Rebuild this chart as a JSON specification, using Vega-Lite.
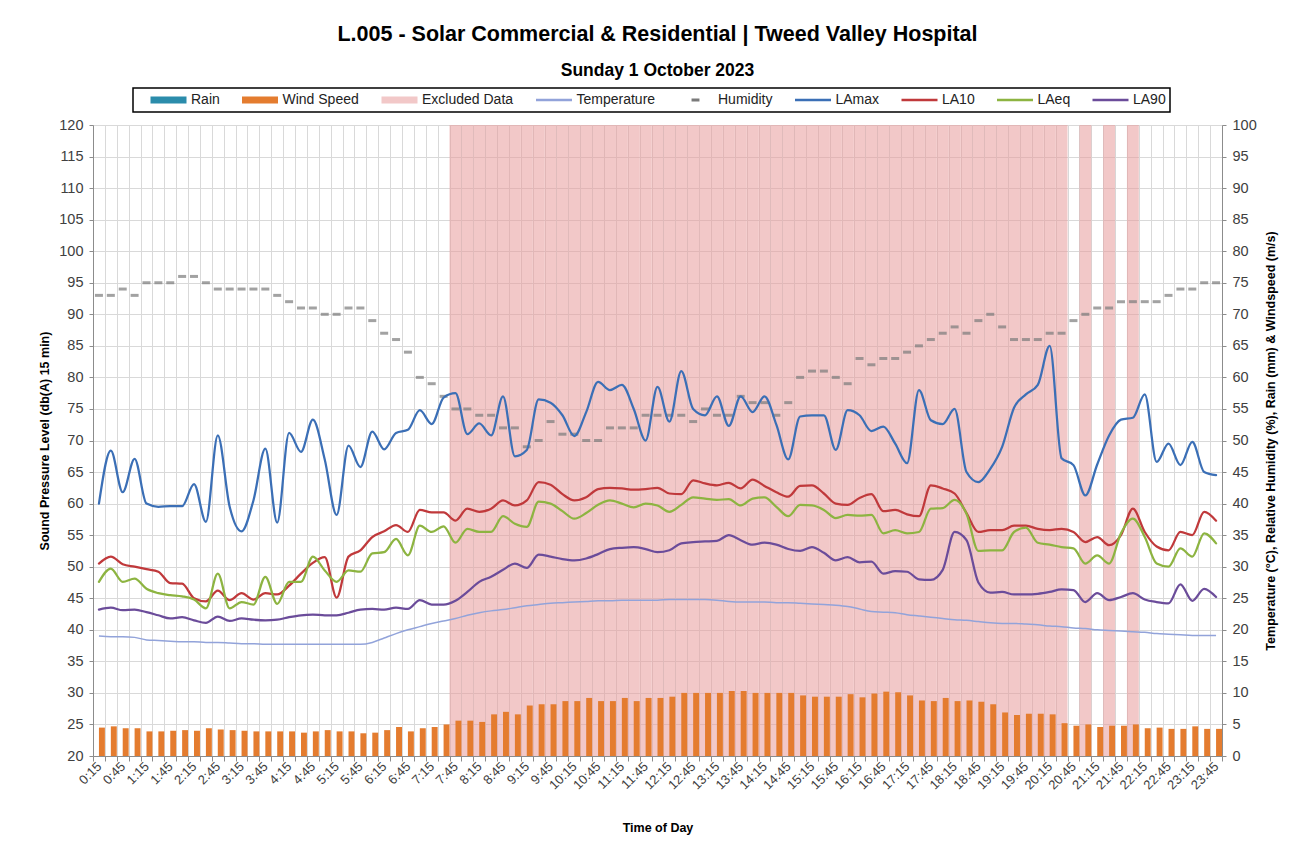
{
  "$schema": "https://vega.github.io/schema/vega-lite/v6.json",
  "width": 1129,
  "height": 631,
  "autosize": {"type": "none"},
  "padding": {"left": 93, "top": 125, "right": 87, "bottom": 95},
  "background": "white",
  "title": {
    "text": "L.005 - Solar Commercial & Residential | Tweed Valley Hospital",
    "subtitle": "Sunday 1 October 2023",
    "anchor": "middle",
    "frame": "group",
    "font": "Liberation Sans",
    "fontSize": 21.5,
    "fontWeight": "bold",
    "color": "#000000",
    "subtitleFont": "Liberation Sans",
    "subtitleFontSize": 17.5,
    "subtitleFontWeight": "bold",
    "subtitleColor": "#000000",
    "subtitlePadding": 16,
    "offset": 8
  },
  "config": {
    "font": "Liberation Sans",
    "view": {"stroke": null},
    "axis": {
      "labelFont": "Liberation Sans",
      "titleFont": "Liberation Sans",
      "labelColor": "#404040",
      "titleColor": "#000000",
      "domainColor": "#8c8c8c",
      "tickColor": "#8c8c8c",
      "gridColor": "#d9d9d9",
      "gridWidth": 1,
      "titleFontSize": 12.5,
      "titleFontWeight": "bold"
    }
  },
  "data": {
    "values": [
      {"t":"0:15","LAmax":60.0,"LA10":50.5,"LAeq":47.6,"LA90":43.2,"Temperature":19.0,"Humidity":73,"Rain":0,"Wind Speed":4.5,"Excluded Data":0},
      {"t":"0:30","LAmax":68.4,"LA10":51.6,"LAeq":49.7,"LA90":43.5,"Temperature":18.9,"Humidity":73,"Rain":0,"Wind Speed":4.7,"Excluded Data":0},
      {"t":"0:45","LAmax":61.8,"LA10":50.4,"LAeq":47.6,"LA90":43.1,"Temperature":18.9,"Humidity":74,"Rain":0,"Wind Speed":4.4,"Excluded Data":0},
      {"t":"1:00","LAmax":67.1,"LA10":50.0,"LAeq":48.1,"LA90":43.2,"Temperature":18.8,"Humidity":73,"Rain":0,"Wind Speed":4.4,"Excluded Data":0},
      {"t":"1:15","LAmax":60.0,"LA10":49.6,"LAeq":46.5,"LA90":42.8,"Temperature":18.4,"Humidity":75,"Rain":0,"Wind Speed":3.9,"Excluded Data":0},
      {"t":"1:30","LAmax":59.5,"LA10":49.2,"LAeq":45.8,"LA90":42.3,"Temperature":18.3,"Humidity":75,"Rain":0,"Wind Speed":3.9,"Excluded Data":0},
      {"t":"1:45","LAmax":59.6,"LA10":47.4,"LAeq":45.5,"LA90":41.8,"Temperature":18.2,"Humidity":75,"Rain":0,"Wind Speed":4.0,"Excluded Data":0},
      {"t":"2:00","LAmax":59.6,"LA10":47.3,"LAeq":45.3,"LA90":42.0,"Temperature":18.1,"Humidity":76,"Rain":0,"Wind Speed":4.1,"Excluded Data":0},
      {"t":"2:15","LAmax":63.1,"LA10":45.0,"LAeq":44.8,"LA90":41.5,"Temperature":18.1,"Humidity":76,"Rain":0,"Wind Speed":4.0,"Excluded Data":0},
      {"t":"2:30","LAmax":57.1,"LA10":44.5,"LAeq":43.4,"LA90":41.1,"Temperature":18.0,"Humidity":75,"Rain":0,"Wind Speed":4.4,"Excluded Data":0},
      {"t":"2:45","LAmax":70.8,"LA10":46.2,"LAeq":48.9,"LA90":42.1,"Temperature":18.0,"Humidity":74,"Rain":0,"Wind Speed":4.2,"Excluded Data":0},
      {"t":"3:00","LAmax":59.5,"LA10":44.7,"LAeq":43.4,"LA90":41.4,"Temperature":17.9,"Humidity":74,"Rain":0,"Wind Speed":4.1,"Excluded Data":0},
      {"t":"3:15","LAmax":55.6,"LA10":45.8,"LAeq":44.4,"LA90":41.8,"Temperature":17.8,"Humidity":74,"Rain":0,"Wind Speed":4.0,"Excluded Data":0},
      {"t":"3:30","LAmax":60.5,"LA10":44.8,"LAeq":44.0,"LA90":41.6,"Temperature":17.8,"Humidity":74,"Rain":0,"Wind Speed":3.9,"Excluded Data":0},
      {"t":"3:45","LAmax":68.7,"LA10":45.8,"LAeq":48.4,"LA90":41.5,"Temperature":17.7,"Humidity":74,"Rain":0,"Wind Speed":3.9,"Excluded Data":0},
      {"t":"4:00","LAmax":57.0,"LA10":45.6,"LAeq":44.1,"LA90":41.6,"Temperature":17.7,"Humidity":73,"Rain":0,"Wind Speed":3.9,"Excluded Data":0},
      {"t":"4:15","LAmax":71.2,"LA10":47.0,"LAeq":47.6,"LA90":42.0,"Temperature":17.7,"Humidity":72,"Rain":0,"Wind Speed":3.9,"Excluded Data":0},
      {"t":"4:30","LAmax":68.2,"LA10":48.9,"LAeq":47.6,"LA90":42.3,"Temperature":17.7,"Humidity":71,"Rain":0,"Wind Speed":3.7,"Excluded Data":0},
      {"t":"4:45","LAmax":73.3,"LA10":50.6,"LAeq":51.6,"LA90":42.4,"Temperature":17.7,"Humidity":71,"Rain":0,"Wind Speed":3.9,"Excluded Data":0},
      {"t":"5:00","LAmax":67.0,"LA10":51.5,"LAeq":49.4,"LA90":42.3,"Temperature":17.7,"Humidity":70,"Rain":0,"Wind Speed":4.1,"Excluded Data":0},
      {"t":"5:15","LAmax":58.2,"LA10":45.1,"LAeq":47.6,"LA90":42.3,"Temperature":17.7,"Humidity":70,"Rain":0,"Wind Speed":3.9,"Excluded Data":0},
      {"t":"5:30","LAmax":69.2,"LA10":51.6,"LAeq":49.4,"LA90":42.7,"Temperature":17.7,"Humidity":71,"Rain":0,"Wind Speed":3.9,"Excluded Data":0},
      {"t":"5:45","LAmax":65.8,"LA10":52.6,"LAeq":49.2,"LA90":43.2,"Temperature":17.7,"Humidity":71,"Rain":0,"Wind Speed":3.6,"Excluded Data":0},
      {"t":"6:00","LAmax":71.4,"LA10":54.7,"LAeq":52.1,"LA90":43.3,"Temperature":18.0,"Humidity":69,"Rain":0,"Wind Speed":3.7,"Excluded Data":0},
      {"t":"6:15","LAmax":68.6,"LA10":55.6,"LAeq":52.3,"LA90":43.2,"Temperature":18.7,"Humidity":67,"Rain":0,"Wind Speed":4.1,"Excluded Data":0},
      {"t":"6:30","LAmax":71.2,"LA10":56.6,"LAeq":54.4,"LA90":43.5,"Temperature":19.4,"Humidity":66,"Rain":0,"Wind Speed":4.6,"Excluded Data":0},
      {"t":"6:45","LAmax":71.7,"LA10":55.5,"LAeq":51.8,"LA90":43.3,"Temperature":20.0,"Humidity":64,"Rain":0,"Wind Speed":3.9,"Excluded Data":0},
      {"t":"7:00","LAmax":74.8,"LA10":59.0,"LAeq":56.5,"LA90":44.7,"Temperature":20.5,"Humidity":60,"Rain":0,"Wind Speed":4.4,"Excluded Data":0},
      {"t":"7:15","LAmax":72.6,"LA10":58.6,"LAeq":55.5,"LA90":44.0,"Temperature":21.0,"Humidity":59,"Rain":0,"Wind Speed":4.6,"Excluded Data":0},
      {"t":"7:30","LAmax":76.8,"LA10":58.6,"LAeq":56.4,"LA90":44.0,"Temperature":21.4,"Humidity":57,"Rain":0,"Wind Speed":5.0,"Excluded Data":0},
      {"t":"7:45","LAmax":77.5,"LA10":57.3,"LAeq":53.8,"LA90":44.6,"Temperature":21.8,"Humidity":55,"Rain":0,"Wind Speed":5.6,"Excluded Data":100},
      {"t":"8:00","LAmax":71.0,"LA10":59.2,"LAeq":56.0,"LA90":46.0,"Temperature":22.3,"Humidity":55,"Rain":0,"Wind Speed":5.6,"Excluded Data":100},
      {"t":"8:15","LAmax":72.7,"LA10":58.7,"LAeq":55.5,"LA90":47.6,"Temperature":22.7,"Humidity":54,"Rain":0,"Wind Speed":5.4,"Excluded Data":100},
      {"t":"8:30","LAmax":70.8,"LA10":59.2,"LAeq":55.5,"LA90":48.4,"Temperature":23.0,"Humidity":54,"Rain":0,"Wind Speed":6.6,"Excluded Data":100},
      {"t":"8:45","LAmax":77.0,"LA10":60.5,"LAeq":58.0,"LA90":49.5,"Temperature":23.2,"Humidity":52,"Rain":0,"Wind Speed":7.0,"Excluded Data":100},
      {"t":"9:00","LAmax":67.5,"LA10":59.7,"LAeq":56.8,"LA90":50.5,"Temperature":23.5,"Humidity":52,"Rain":0,"Wind Speed":6.6,"Excluded Data":100},
      {"t":"9:15","LAmax":68.5,"LA10":60.5,"LAeq":56.3,"LA90":49.8,"Temperature":23.8,"Humidity":49,"Rain":0,"Wind Speed":8.0,"Excluded Data":100},
      {"t":"9:30","LAmax":76.5,"LA10":63.4,"LAeq":60.3,"LA90":51.9,"Temperature":24.0,"Humidity":50,"Rain":0,"Wind Speed":8.2,"Excluded Data":100},
      {"t":"9:45","LAmax":76.0,"LA10":63.0,"LAeq":60.0,"LA90":51.6,"Temperature":24.2,"Humidity":53,"Rain":0,"Wind Speed":8.2,"Excluded Data":100},
      {"t":"10:00","LAmax":74.0,"LA10":61.5,"LAeq":58.8,"LA90":51.2,"Temperature":24.3,"Humidity":51,"Rain":0,"Wind Speed":8.7,"Excluded Data":100},
      {"t":"10:15","LAmax":70.7,"LA10":60.5,"LAeq":57.6,"LA90":51.0,"Temperature":24.4,"Humidity":51,"Rain":0,"Wind Speed":8.7,"Excluded Data":100},
      {"t":"10:30","LAmax":74.5,"LA10":61.0,"LAeq":58.5,"LA90":51.3,"Temperature":24.5,"Humidity":50,"Rain":0,"Wind Speed":9.2,"Excluded Data":100},
      {"t":"10:45","LAmax":79.3,"LA10":62.3,"LAeq":59.8,"LA90":52.0,"Temperature":24.6,"Humidity":50,"Rain":0,"Wind Speed":8.7,"Excluded Data":100},
      {"t":"11:00","LAmax":78.0,"LA10":62.5,"LAeq":60.5,"LA90":52.8,"Temperature":24.6,"Humidity":52,"Rain":0,"Wind Speed":8.7,"Excluded Data":100},
      {"t":"11:15","LAmax":78.8,"LA10":62.4,"LAeq":60.0,"LA90":53.0,"Temperature":24.7,"Humidity":52,"Rain":0,"Wind Speed":9.2,"Excluded Data":100},
      {"t":"11:30","LAmax":75.0,"LA10":62.2,"LAeq":59.4,"LA90":53.1,"Temperature":24.7,"Humidity":52,"Rain":0,"Wind Speed":8.7,"Excluded Data":100},
      {"t":"11:45","LAmax":70.0,"LA10":62.3,"LAeq":60.0,"LA90":52.8,"Temperature":24.7,"Humidity":54,"Rain":0,"Wind Speed":9.2,"Excluded Data":100},
      {"t":"12:00","LAmax":78.5,"LA10":62.5,"LAeq":59.7,"LA90":52.3,"Temperature":24.7,"Humidity":54,"Rain":0,"Wind Speed":9.2,"Excluded Data":100},
      {"t":"12:15","LAmax":73.0,"LA10":61.6,"LAeq":58.7,"LA90":52.6,"Temperature":24.8,"Humidity":54,"Rain":0,"Wind Speed":9.4,"Excluded Data":100},
      {"t":"12:30","LAmax":81.0,"LA10":61.5,"LAeq":59.8,"LA90":53.7,"Temperature":24.8,"Humidity":54,"Rain":0,"Wind Speed":10.0,"Excluded Data":100},
      {"t":"12:45","LAmax":75.0,"LA10":63.7,"LAeq":61.0,"LA90":53.9,"Temperature":24.8,"Humidity":53,"Rain":0,"Wind Speed":10.0,"Excluded Data":100},
      {"t":"13:00","LAmax":74.0,"LA10":63.2,"LAeq":60.8,"LA90":54.0,"Temperature":24.8,"Humidity":55,"Rain":0,"Wind Speed":10.0,"Excluded Data":100},
      {"t":"13:15","LAmax":77.0,"LA10":62.9,"LAeq":60.6,"LA90":54.1,"Temperature":24.7,"Humidity":54,"Rain":0,"Wind Speed":10.0,"Excluded Data":100},
      {"t":"13:30","LAmax":72.3,"LA10":63.3,"LAeq":60.7,"LA90":55.0,"Temperature":24.5,"Humidity":54,"Rain":0,"Wind Speed":10.3,"Excluded Data":100},
      {"t":"13:45","LAmax":77.0,"LA10":62.4,"LAeq":59.7,"LA90":54.2,"Temperature":24.4,"Humidity":57,"Rain":0,"Wind Speed":10.3,"Excluded Data":100},
      {"t":"14:00","LAmax":74.5,"LA10":63.8,"LAeq":60.8,"LA90":53.5,"Temperature":24.4,"Humidity":56,"Rain":0,"Wind Speed":10.0,"Excluded Data":100},
      {"t":"14:15","LAmax":77.0,"LA10":62.8,"LAeq":61.0,"LA90":53.8,"Temperature":24.4,"Humidity":56,"Rain":0,"Wind Speed":10.0,"Excluded Data":100},
      {"t":"14:30","LAmax":72.5,"LA10":61.8,"LAeq":59.5,"LA90":53.5,"Temperature":24.3,"Humidity":54,"Rain":0,"Wind Speed":10.0,"Excluded Data":100},
      {"t":"14:45","LAmax":67.0,"LA10":61.1,"LAeq":58.0,"LA90":52.8,"Temperature":24.3,"Humidity":56,"Rain":0,"Wind Speed":10.0,"Excluded Data":100},
      {"t":"15:00","LAmax":73.8,"LA10":62.8,"LAeq":59.8,"LA90":52.5,"Temperature":24.2,"Humidity":60,"Rain":0,"Wind Speed":9.6,"Excluded Data":100},
      {"t":"15:15","LAmax":74.0,"LA10":62.9,"LAeq":59.7,"LA90":53.1,"Temperature":24.1,"Humidity":61,"Rain":0,"Wind Speed":9.4,"Excluded Data":100},
      {"t":"15:30","LAmax":74.0,"LA10":61.6,"LAeq":59.0,"LA90":52.2,"Temperature":24.0,"Humidity":61,"Rain":0,"Wind Speed":9.4,"Excluded Data":100},
      {"t":"15:45","LAmax":68.5,"LA10":60.0,"LAeq":57.7,"LA90":51.0,"Temperature":23.9,"Humidity":60,"Rain":0,"Wind Speed":9.4,"Excluded Data":100},
      {"t":"16:00","LAmax":74.8,"LA10":59.8,"LAeq":58.2,"LA90":51.5,"Temperature":23.7,"Humidity":59,"Rain":0,"Wind Speed":9.8,"Excluded Data":100},
      {"t":"16:15","LAmax":74.0,"LA10":60.9,"LAeq":58.1,"LA90":50.7,"Temperature":23.3,"Humidity":63,"Rain":0,"Wind Speed":9.3,"Excluded Data":100},
      {"t":"16:30","LAmax":71.5,"LA10":61.5,"LAeq":58.2,"LA90":50.8,"Temperature":22.9,"Humidity":62,"Rain":0,"Wind Speed":9.9,"Excluded Data":100},
      {"t":"16:45","LAmax":72.2,"LA10":58.8,"LAeq":55.3,"LA90":48.9,"Temperature":22.8,"Humidity":63,"Rain":0,"Wind Speed":10.2,"Excluded Data":100},
      {"t":"17:00","LAmax":69.5,"LA10":59.0,"LAeq":55.8,"LA90":49.3,"Temperature":22.7,"Humidity":63,"Rain":0,"Wind Speed":10.1,"Excluded Data":100},
      {"t":"17:15","LAmax":66.4,"LA10":58.3,"LAeq":55.3,"LA90":49.2,"Temperature":22.4,"Humidity":64,"Rain":0,"Wind Speed":9.6,"Excluded Data":100},
      {"t":"17:30","LAmax":78.0,"LA10":58.0,"LAeq":55.5,"LA90":48.0,"Temperature":22.2,"Humidity":65,"Rain":0,"Wind Speed":8.8,"Excluded Data":100},
      {"t":"17:45","LAmax":73.2,"LA10":62.9,"LAeq":59.2,"LA90":47.9,"Temperature":22.0,"Humidity":66,"Rain":0,"Wind Speed":8.7,"Excluded Data":100},
      {"t":"18:00","LAmax":72.6,"LA10":62.4,"LAeq":59.3,"LA90":49.5,"Temperature":21.8,"Humidity":67,"Rain":0,"Wind Speed":9.2,"Excluded Data":100},
      {"t":"18:15","LAmax":75.0,"LA10":61.6,"LAeq":60.6,"LA90":55.5,"Temperature":21.6,"Humidity":68,"Rain":0,"Wind Speed":8.7,"Excluded Data":100},
      {"t":"18:30","LAmax":65.0,"LA10":58.5,"LAeq":58.4,"LA90":54.2,"Temperature":21.5,"Humidity":67,"Rain":0,"Wind Speed":8.8,"Excluded Data":100},
      {"t":"18:45","LAmax":63.4,"LA10":55.5,"LAeq":52.5,"LA90":47.5,"Temperature":21.3,"Humidity":69,"Rain":0,"Wind Speed":8.6,"Excluded Data":100},
      {"t":"19:00","LAmax":65.5,"LA10":55.8,"LAeq":52.6,"LA90":45.9,"Temperature":21.1,"Humidity":70,"Rain":0,"Wind Speed":8.2,"Excluded Data":100},
      {"t":"19:15","LAmax":69.0,"LA10":55.8,"LAeq":52.6,"LA90":46.0,"Temperature":21.0,"Humidity":68,"Rain":0,"Wind Speed":6.9,"Excluded Data":100},
      {"t":"19:30","LAmax":75.2,"LA10":56.5,"LAeq":55.5,"LA90":45.6,"Temperature":21.0,"Humidity":66,"Rain":0,"Wind Speed":6.5,"Excluded Data":100},
      {"t":"19:45","LAmax":77.3,"LA10":56.5,"LAeq":56.2,"LA90":45.6,"Temperature":20.9,"Humidity":66,"Rain":0,"Wind Speed":6.7,"Excluded Data":100},
      {"t":"20:00","LAmax":78.8,"LA10":56.0,"LAeq":53.8,"LA90":45.7,"Temperature":20.8,"Humidity":66,"Rain":0,"Wind Speed":6.7,"Excluded Data":100},
      {"t":"20:15","LAmax":85.0,"LA10":55.8,"LAeq":53.5,"LA90":46.0,"Temperature":20.6,"Humidity":67,"Rain":0,"Wind Speed":6.6,"Excluded Data":100},
      {"t":"20:30","LAmax":67.2,"LA10":56.0,"LAeq":53.1,"LA90":46.4,"Temperature":20.5,"Humidity":67,"Rain":0,"Wind Speed":5.2,"Excluded Data":100},
      {"t":"20:45","LAmax":66.1,"LA10":55.5,"LAeq":52.9,"LA90":46.3,"Temperature":20.3,"Humidity":69,"Rain":0,"Wind Speed":4.8,"Excluded Data":0},
      {"t":"21:00","LAmax":61.3,"LA10":53.9,"LAeq":50.5,"LA90":44.4,"Temperature":20.2,"Humidity":70,"Rain":0,"Wind Speed":5.0,"Excluded Data":100},
      {"t":"21:15","LAmax":66.2,"LA10":54.7,"LAeq":51.8,"LA90":45.8,"Temperature":20.0,"Humidity":71,"Rain":0,"Wind Speed":4.6,"Excluded Data":0},
      {"t":"21:30","LAmax":70.8,"LA10":53.4,"LAeq":50.5,"LA90":44.7,"Temperature":19.9,"Humidity":71,"Rain":0,"Wind Speed":4.8,"Excluded Data":100},
      {"t":"21:45","LAmax":73.3,"LA10":55.0,"LAeq":55.3,"LA90":45.2,"Temperature":19.8,"Humidity":72,"Rain":0,"Wind Speed":4.8,"Excluded Data":0},
      {"t":"22:00","LAmax":73.6,"LA10":59.2,"LAeq":57.6,"LA90":45.8,"Temperature":19.7,"Humidity":72,"Rain":0,"Wind Speed":5.0,"Excluded Data":100},
      {"t":"22:15","LAmax":77.3,"LA10":55.5,"LAeq":54.7,"LA90":44.8,"Temperature":19.6,"Humidity":72,"Rain":0,"Wind Speed":4.4,"Excluded Data":0},
      {"t":"22:30","LAmax":66.6,"LA10":53.2,"LAeq":50.5,"LA90":44.4,"Temperature":19.4,"Humidity":72,"Rain":0,"Wind Speed":4.5,"Excluded Data":0},
      {"t":"22:45","LAmax":69.5,"LA10":52.6,"LAeq":50.0,"LA90":44.2,"Temperature":19.3,"Humidity":73,"Rain":0,"Wind Speed":4.3,"Excluded Data":0},
      {"t":"23:00","LAmax":66.1,"LA10":55.5,"LAeq":52.9,"LA90":47.2,"Temperature":19.2,"Humidity":74,"Rain":0,"Wind Speed":4.3,"Excluded Data":0},
      {"t":"23:15","LAmax":69.8,"LA10":55.0,"LAeq":51.6,"LA90":44.6,"Temperature":19.1,"Humidity":74,"Rain":0,"Wind Speed":4.7,"Excluded Data":0},
      {"t":"23:30","LAmax":65.0,"LA10":58.7,"LAeq":55.3,"LA90":46.5,"Temperature":19.1,"Humidity":75,"Rain":0,"Wind Speed":4.3,"Excluded Data":0},
      {"t":"23:45","LAmax":64.5,"LA10":57.3,"LAeq":53.7,"LA90":45.2,"Temperature":19.1,"Humidity":75,"Rain":0,"Wind Speed":4.3,"Excluded Data":0}
    ]
  },
  "transform": [
    {"fold": ["Rain", "Wind Speed", "Excluded Data", "Temperature", "Humidity", "LAmax", "LA10", "LAeq", "LA90"], "as": ["series", "value"]}
  ],
  "encoding": {
    "x": {
      "field": "t",
      "type": "nominal",
      "scale": {
        "domain": ["0:15","0:30","0:45","1:00","1:15","1:30","1:45","2:00","2:15","2:30","2:45","3:00","3:15","3:30","3:45","4:00","4:15","4:30","4:45","5:00","5:15","5:30","5:45","6:00","6:15","6:30","6:45","7:00","7:15","7:30","7:45","8:00","8:15","8:30","8:45","9:00","9:15","9:30","9:45","10:00","10:15","10:30","10:45","11:00","11:15","11:30","11:45","12:00","12:15","12:30","12:45","13:00","13:15","13:30","13:45","14:00","14:15","14:30","14:45","15:00","15:15","15:30","15:45","16:00","16:15","16:30","16:45","17:00","17:15","17:30","17:45","18:00","18:15","18:30","18:45","19:00","19:15","19:30","19:45","20:00","20:15","20:30","20:45","21:00","21:15","21:30","21:45","22:00","22:15","22:30","22:45","23:00","23:15","23:30","23:45"],
        "paddingInner": 0,
        "paddingOuter": 0
      },
      "axis": {
        "title": "Time of Day",
        "titlePadding": 30,
        "labelAngle": -45,
        "labelAlign": "right",
        "labelBaseline": "middle",
        "labelFontSize": 13,
        "labelPadding": 3,
        "labelOverlap": false,
        "labelBound": false,
        "labelExpr": "(indexof(datum.label, ':15') > 0 || indexof(datum.label, ':45') > 0) ? datum.label : ''",
        "tickBand": "extent",
        "tickSize": 5,
        "grid": true
      }
    },
    "color": {
      "field": "series",
      "type": "nominal",
      "scale": {
        "domain": ["Rain", "Wind Speed", "Excluded Data", "Temperature", "Humidity", "LAmax", "LA10", "LAeq", "LA90"],
        "range": ["#2b8cab", "#e47c2f", "#e79b9b", "#92a3da", "#7a7a7a", "#3b6fb6", "#c0393b", "#8db441", "#6b4c9a"]
      },
      "legend": {
        "orient": "none",
        "legendX": 40,
        "legendY": -37,
        "direction": "horizontal",
        "columns": 9,
        "title": " ",
        "titleOrient": "left",
        "titlePadding": 12,
        "titleFontSize": 14,
        "padding": 4,
        "clipHeight": 16,
        "strokeColor": "#000000",
        "fillColor": "#ffffff",
        "labelFont": "Liberation Sans",
        "labelFontSize": 14,
        "labelColor": "#222222",
        "labelOffset": 3,
        "labelLimit": 300,
        "labelExpr": "datum.label == 'LA90' ? 'LA90\u00a0\u00a0\u00a0\u00a0' : datum.label",
        "symbolType": "stroke",
        "columnPadding": 20.5,
        "encode": {
          "legend": {"update": {"strokeWidth": {"value": 1.5}}},
          "symbols": {
            "update": {
              "size": {"value": 1296},
              "shape": {"signal": "datum.value == 'Humidity' ? 'M-0.22,-0.09H0.22V0.09H-0.22Z' : ((datum.value == 'Rain' || datum.value == 'Wind Speed' || datum.value == 'Excluded Data') ? 'M-1,-0.2H1V0.2H-1Z' : 'M-1,0H1')"},
              "fill": {"scale": "color", "field": "value"},
              "stroke": {"scale": "color", "field": "value"},
              "strokeWidth": {"value": 2.5},
              "strokeCap": {"value": "butt"},
              "fillOpacity": {"signal": "(datum.value == 'Rain' || datum.value == 'Wind Speed' || datum.value == 'Humidity') ? 1 : (datum.value == 'Excluded Data' ? 0.55 : 0)"},
              "strokeOpacity": {"signal": "(datum.value == 'Rain' || datum.value == 'Wind Speed' || datum.value == 'Humidity' || datum.value == 'Excluded Data') ? 0 : 1"},
              "opacity": {"value": 1}
            }
          }
        }
      }
    }
  },
  "layer": [
    {
      "encoding": {
        "y": {
          "field": "value",
          "type": "quantitative",
          "scale": {"domain": [0, 100], "nice": false, "zero": false},
          "axis": {
            "orient": "right",
            "values": [0,5,10,15,20,25,30,35,40,45,50,55,60,65,70,75,80,85,90,95,100],
            "title": "Temperature (°C), Relative Humidity (%), Rain (mm) & Windspeed (m/s)",
            "titleAngle": 270,
            "titleBaseline": "top",
            "titlePadding": 8,
            "labelFontSize": 14.5,
            "labelPadding": 6,
            "tickSize": 4,
            "grid": false
          }
        }
      },
      "layer": [
        {
          "transform": [{"filter": "datum.series == 'Excluded Data'"}],
          "mark": {"type": "bar", "opacity": 0.55}
        },
        {
          "transform": [{"filter": "datum.series == 'Rain' || datum.series == 'Wind Speed'"}],
          "mark": {"type": "bar"},
          "encoding": {
            "xOffset": {"field": "series", "type": "nominal", "scale": {"domain": ["Rain", "Wind Speed"], "paddingInner": 0, "paddingOuter": 0}}
          }
        },
        {
          "transform": [{"filter": "datum.series == 'Temperature'"}],
          "mark": {"type": "line", "strokeWidth": 1.5, "interpolate": "monotone"}
        },
        {
          "transform": [{"filter": "datum.series == 'Humidity'"}],
          "mark": {"type": "tick", "size": 8, "thickness": 3}
        }
      ]
    },
    {
      "transform": [{"filter": "datum.series == 'LAmax' || datum.series == 'LA10' || datum.series == 'LAeq' || datum.series == 'LA90'"}],
      "mark": {"type": "line", "strokeWidth": 2.25, "interpolate": "monotone", "strokeJoin": "round", "strokeCap": "round"},
      "encoding": {
        "y": {
          "field": "value",
          "type": "quantitative",
          "scale": {"domain": [20, 120], "nice": false, "zero": false},
          "axis": {
            "orient": "left",
            "values": [20,25,30,35,40,45,50,55,60,65,70,75,80,85,90,95,100,105,110,115,120],
            "title": "Sound Pressure Level  (db(A) 15 min)",
            "titlePadding": 7,
            "labelFontSize": 14.5,
            "labelPadding": 6,
            "tickSize": 4,
            "grid": true
          }
        }
      }
    }
  ],
  "resolve": {"scale": {"y": "independent"}}
}
